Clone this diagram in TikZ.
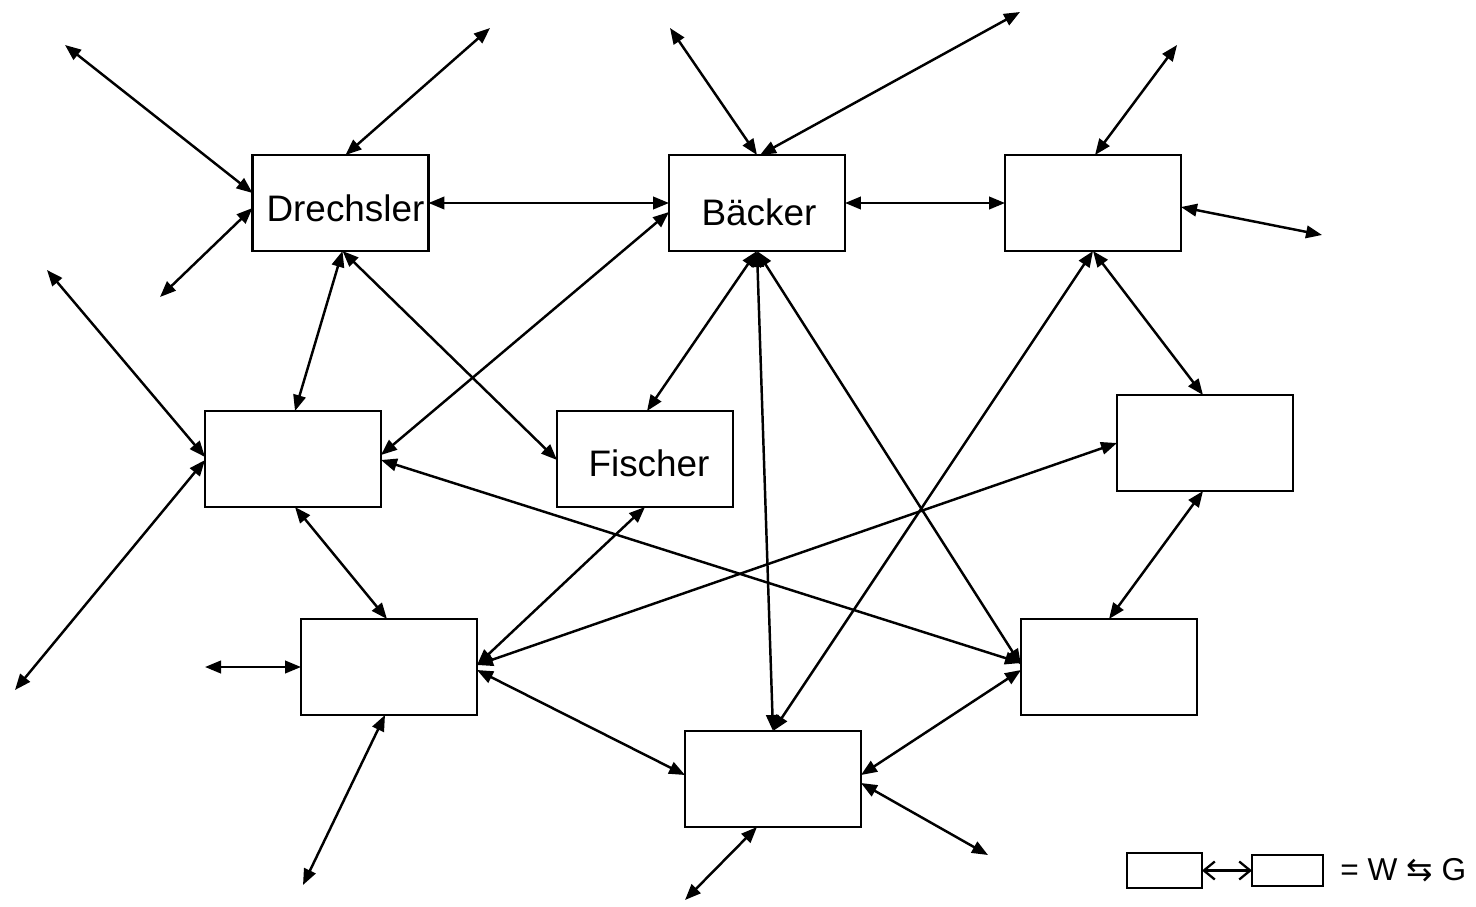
\documentclass[tikz,border=0pt]{standalone}
\usepackage{fontspec}
\setmainfont{Liberation Sans}
\newfontfamily\symfont{DejaVu Sans}
\usetikzlibrary{arrows.meta,calc}
\begin{document}
\begin{tikzpicture}[x=0.02cm,y=-0.02cm,
  box/.style={draw,line width=1.2pt,minimum width=3.52cm,minimum height=1.92cm,inner sep=0pt,outer sep=0pt},
  boxtext/.style={inner sep=0pt,font=\fontsize{21}{24}\selectfont},
  lbox/.style={draw,line width=1.2pt,inner sep=0pt,outer sep=0pt},
  conn/.style={line width=1.4pt,{Triangle[length=0.32cm,width=0.25cm]}-{Triangle[length=0.32cm,width=0.25cm]}},
  lconn/.style={line width=1.3pt,{Straight Barb[length=0.22cm,width=0.36cm]}-{Straight Barb[length=0.22cm,width=0.36cm]}}]
\useasboundingbox (0,0) rectangle (1476,906);
% boxes
\node[box] (dre) at (340.5,203) {};
\node[box] (bae) at (757,203) {};
\node[box] (tr) at (1093,203) {};
\node[box] (lm) at (293,459) {};
\node[box] (fis) at (645,459) {};
\node[box] (rm) at (1205,443) {};
\node[box] (ll) at (389,667) {};
\node[box] (lr) at (1109,667) {};
\node[box] (bot) at (773,779) {};
% texts
\node[boxtext] (tdre) at ($(dre.center)+(5,5)$) {Drechsler};
\node[boxtext] (tbae) at ($(bae.center)+(2,9)$) {Bäcker};
\node[boxtext] (tfis) at ($(fis.center)+(4,4)$) {Fischer};
% free ends
\coordinate (f1) at (65,45);
\coordinate (f2) at (490,28);
\coordinate (f3) at (160,297);
\coordinate (f8) at (670,28);
\coordinate (f9) at (1020,12);
\coordinate (f14) at (1177,45);
\coordinate (f15) at (1322,235);
\coordinate (f18) at (47,270);
\coordinate (f19) at (15,690);
\coordinate (f24) at (205,667);
\coordinate (f25) at (303,885);
\coordinate (f29) at (988,855);
\coordinate (f30) at (685,900);
% connectors
\draw[conn] (f1) -- ($(dre.west)+(0,-10)$);
\draw[conn] (f2) -- ($(dre.north)+(5,0)$);
\draw[conn] (f3) -- ($(dre.west)+(0,5)$);
\draw[conn] (dre.east) -- (bae.west);
\draw[conn] ($(dre.south)+(2,0)$) -- ($(lm.north)+(2,0)$);
\draw[conn] ($(dre.south)+(2,0)$) -- ($(fis.west)+(0,1)$);
\draw[conn] ($(bae.west)+(0,9)$) -- ($(lm.east)+(0,-4)$);
\draw[conn] (f8) -- (bae.north);
\draw[conn] (f9) -- ($(bae.north)+(3,0)$);
\draw[conn] (bae.east) -- (tr.west);
\draw[conn] (bae.south) -- ($(fis.north)+(2,0)$);
\draw[conn] (bae.south) -- (bot.north);
\draw[conn] (bae.south) -- ($(lr.west)+(0,-2)$);
\draw[conn] (f14) -- ($(tr.north)+(2,0)$);
\draw[conn] ($(tr.east)+(0,4)$) -- (f15);
\draw[conn] (tr.south) -- ($(rm.north)+(-2,0)$);
\draw[conn] (tr.south) -- (bot.north);
\draw[conn] (f18) -- ($(lm.west)+(0,-2)$);
\draw[conn] (f19) -- ($(lm.west)+(0,1)$);
\draw[conn] ($(lm.east)+(0,1)$) -- ($(lr.west)+(0,-4)$);
\draw[conn] ($(lm.south)+(2,0)$) -- ($(ll.north)+(-2,0)$);
\draw[conn] (fis.south) -- ($(ll.east)+(0,-2)$);
\draw[conn] (rm.west) -- ($(ll.east)+(0,-2)$);
\draw[conn] (f24) -- (ll.west);
\draw[conn] ($(ll.south)+(-4,0)$) -- (f25);
\draw[conn] ($(ll.east)+(0,3)$) -- ($(bot.west)+(0,-4)$);
\draw[conn] ($(rm.south)+(-2,0)$) -- (lr.north);
\draw[conn] ($(lr.west)+(0,3)$) -- ($(bot.east)+(0,-4)$);
\draw[conn] ($(bot.east)+(0,4)$) -- (f29);
\draw[conn] ($(bot.south)+(-16,0)$) -- (f30);
% legend
\node[lbox,minimum width=1.5cm,minimum height=0.7cm] (lg1) at (1164.5,870.5) {};
\node[lbox,minimum width=1.42cm,minimum height=0.62cm] (lg2) at (1287.5,870.5) {};
\draw[lconn] (lg1.east) -- (lg2.west);
\node[anchor=west,inner sep=0pt,font=\fontsize{18}{20}\selectfont] (lgt) at (1340,870.5) {= W {\symfont ⇆} G};
\end{tikzpicture}
\end{document}
